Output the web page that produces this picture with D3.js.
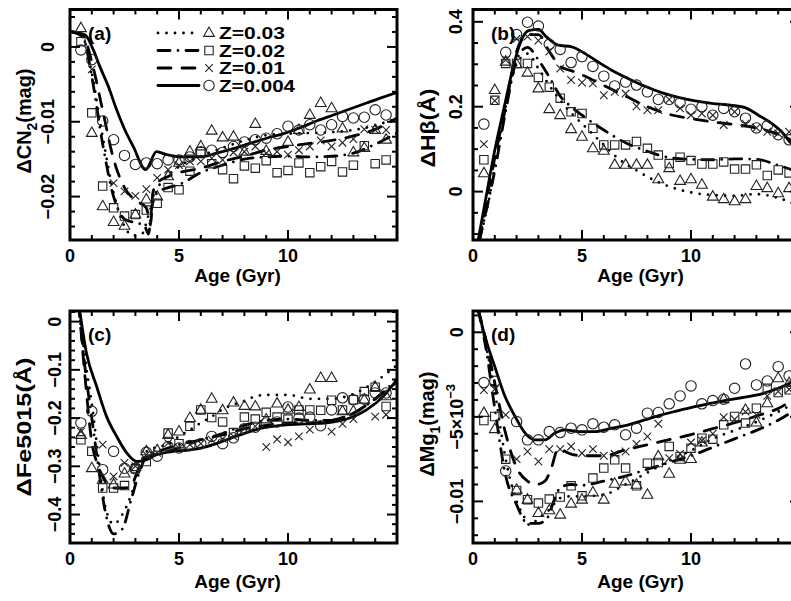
<!DOCTYPE html>
<html>
<head>
<meta charset="utf-8">
<script src="https://cdn.jsdelivr.net/npm/d3@7"></script>
<style>
  html, body { margin: 0; padding: 0; background: #fff; }
  svg { display: block; }
  text { font-family: "Liberation Sans", Arial, sans-serif; font-weight: bold; fill: #000; }
</style>
</head>
<body>
<svg id="chart" width="791" height="601"></svg>
<script>
// Ages (Gyr) of the plotted isochrone points
const markerAges = [0.5, 1, 1.5, 2, 2.5, 3, 3.5, 4, 4.5, 5, 5.5, 6, 6.5, 7, 7.5,
  8, 8.5, 9, 9.5, 10, 10.5, 11, 11.5, 12, 12.5, 13, 13.5, 14, 14.5];

// Panel (a): ΔCN2 (mag)
const cn2Tri = [0.0025, -0.0115, -0.0213, -0.0234, -0.0239, -0.0224, -0.0204, -0.0200, -0.0173, -0.0155,
  -0.0140, -0.0133, -0.0112, -0.0121, -0.0120, -0.0140, -0.0103, -0.0139, null, -0.0127,
  -0.0111, -0.0091, -0.0075, -0.0082, -0.0109, -0.0141, -0.0135, -0.0111, -0.0124];
const cn2Sq = [0.0007, -0.0088, -0.0186, -0.0215, -0.0226, -0.0224, -0.0218, -0.0209, -0.0188, -0.0191,
  -0.0166, -0.0140, -0.0156, -0.0164, -0.0176, -0.0159, -0.0162, -0.0152, -0.0168, -0.0165,
  -0.0155, -0.0168, -0.0160, -0.0153, -0.0167, -0.0158, -0.0132, -0.0156, -0.0151];
const cn2Cross = [null, -0.0030, null, -0.0182, -0.0193, -0.0199, -0.0190, -0.0175, -0.0164, -0.0158,
  -0.0153, -0.0153, -0.0149, -0.0151, -0.0141, -0.0140, -0.0133, -0.0142, -0.0140, -0.0144,
  -0.0138, -0.0133, -0.0125, -0.0133, -0.0128, -0.0123, -0.0110, -0.0111, -0.0111];
const cn2Circ = [-0.0004, -0.0017, -0.0099, -0.0124, -0.0145, -0.0157, -0.0155, -0.0156, -0.0151, -0.0151,
  -0.0147, -0.0140, -0.0138, -0.0141, -0.0133, -0.0127, -0.0124, -0.0122, -0.0116, -0.0106,
  -0.0111, -0.0104, -0.0111, -0.0104, -0.0093, -0.0095, -0.0094, -0.0084, -0.0091];
const cn2Model003 = [[0.1, 0.0020], [0.6, 0.0012], [1.0, -0.0035], [1.5, -0.0120], [2.0, -0.0195], [2.5, -0.0240],
  [2.9, -0.0252], [3.3, -0.0250], [3.6, -0.0225], [4.0, -0.0190], [4.5, -0.0172], [5, -0.0160], [6, -0.0146],
  [7, -0.0135], [8, -0.0125], [9, -0.0118], [10, -0.0116], [11, -0.0115], [12, -0.0114], [13, -0.0111],
  [14, -0.0105], [15, -0.0095]];
const cn2Model002 = [[0.1, 0.0020], [0.6, 0.0013], [1.0, -0.0040], [1.5, -0.0130], [2.0, -0.0200], [2.5, -0.0230],
  [3.0, -0.0235], [3.4, -0.0238], [3.6, -0.0250], [3.75, -0.0215], [4.0, -0.0195], [4.5, -0.0188], [5, -0.0184],
  [6, -0.0168], [7, -0.0158], [8, -0.0150], [9, -0.0147], [10, -0.0146], [11, -0.0147], [12, -0.0146],
  [13, -0.0142], [14, -0.0130], [15, -0.0115]];
const cn2Model001 = [[0.1, 0.0020], [0.6, 0.0015], [1.0, -0.0020], [1.5, -0.0085], [2.0, -0.0150], [2.5, -0.0188],
  [3.0, -0.0205], [3.5, -0.0215], [3.7, -0.0238], [3.8, -0.0195], [4.0, -0.0182], [4.5, -0.0173], [5, -0.0168],
  [6, -0.0162], [7, -0.0153], [8, -0.0146], [9, -0.0138], [10, -0.0133], [11, -0.0129], [12, -0.0125],
  [13, -0.0119], [14, -0.0110], [15, -0.0095]];
const cn2Model0004 = [[0.1, 0.0020], [0.7, 0.0016], [1.07, -0.0004], [1.38, -0.0027], [1.76, -0.0053], [2.14, -0.0084],
  [2.52, -0.0111], [2.9, -0.0133], [3.47, -0.0164], [3.97, -0.0140], [4.44, -0.0144], [5.2, -0.0147],
  [5.96, -0.0147], [6.73, -0.0142], [7.49, -0.0136], [8.25, -0.0129], [9.02, -0.0122], [9.78, -0.0116],
  [10.55, -0.0108], [11.31, -0.0099], [12.08, -0.0091], [12.84, -0.0083], [13.6, -0.0075], [14.37, -0.0067],
  [15, -0.0061]];
const cn2Ticks = [-0.02, -0.01, 0];
const cn2TickLabels = ["\u22120.02", "\u22120.01", "0"];

// Panel (b): ΔHβ (Å)
const hbTri = [0.043, 0.239, 0.306, 0.300, 0.280, 0.243, 0.194, 0.180, 0.147, 0.129, 0.102, 0.096, 0.063, 0.063,
  0.063, 0.063, 0.029, 0.055, 0.025, 0.029, 0.016, -0.012, -0.018, -0.023, -0.018, 0.013, 0.008, -0.004, 0.008];
const hbSq = [0.075, 0.215, 0.302, 0.302, 0.302, 0.269, 0.246, 0.220, 0.188, 0.184, 0.149, 0.110, 0.110, 0.110,
  0.118, 0.102, 0.086, 0.066, 0.081, 0.073, 0.065, 0.065, 0.070, 0.053, 0.053, 0.063, 0.038, 0.051, 0.044];
const hbCross = [0.112, 0.214, 0.310, 0.360, 0.365, 0.356, 0.330, 0.290, 0.263, 0.257, 0.255, 0.227, 0.235, 0.231,
  0.201, 0.192, 0.192, 0.217, 0.196, 0.180, 0.184, 0.180, 0.157, 0.188, 0.160, 0.150, 0.141, 0.137, 0.141];
const hbCirc = [0.159, null, 0.328, 0.370, 0.399, 0.390, 0.347, 0.335, 0.304, 0.318, 0.295, 0.272, 0.249, 0.258,
  0.251, 0.235, 0.217, 0.217, 0.209, 0.194, 0.200, 0.180, 0.196, 0.188, 0.173, 0.150, 0.155, 0.134, 0.122];
const hbModel003 = [[0.3, -0.114], [0.8, 0.0], [1.0, 0.06], [1.5, 0.20], [2.0, 0.30], [2.5, 0.325], [3.0, 0.29],
  [3.5, 0.25], [4.0, 0.215], [4.5, 0.185], [5, 0.16], [5.5, 0.135], [6, 0.11], [6.5, 0.085], [7, 0.065],
  [7.5, 0.05], [8, 0.035], [9, 0.012], [10, -0.002], [11, -0.008], [12, -0.010], [13, -0.006], [14, -0.015],
  [15, -0.035]];
const hbModel002 = [[0.3, -0.114], [0.8, 0.0], [1.0, 0.05], [1.5, 0.19], [2.0, 0.31], [2.5, 0.34], [3.0, 0.31],
  [3.5, 0.27], [4.0, 0.225], [4.5, 0.20], [5, 0.18], [6, 0.145], [7, 0.115], [8, 0.095], [9, 0.08], [10, 0.076],
  [11, 0.075], [12, 0.077], [13, 0.076], [14, 0.062], [15, 0.045]];
const hbModel001 = [[0.3, -0.114], [0.7, 0.0], [1.0, 0.08], [1.5, 0.20], [2.0, 0.33], [2.5, 0.37], [3.0, 0.37],
  [3.5, 0.33], [4.0, 0.295], [4.5, 0.285], [5, 0.275], [6, 0.25], [7, 0.225], [8, 0.20], [9, 0.182], [10, 0.172],
  [11, 0.164], [12, 0.158], [13, 0.150], [14, 0.135], [15, 0.11]];
const hbModel0004 = [[0.24, -0.114], [0.63, -0.004], [1.0, 0.098], [1.47, 0.208], [1.77, 0.278], [2.16, 0.349],
  [2.54, 0.379], [3.0, 0.382], [3.38, 0.364], [3.91, 0.345], [4.53, 0.341], [5.14, 0.325], [5.75, 0.305],
  [6.36, 0.286], [7.13, 0.266], [7.89, 0.248], [8.65, 0.233], [9.42, 0.222], [10.18, 0.214], [10.95, 0.208],
  [11.71, 0.204], [12.48, 0.198], [13.09, 0.180], [13.7, 0.161], [14.16, 0.141], [14.6, 0.113], [15, 0.095]];
const hbTicks = [0, 0.2, 0.4];
const hbTickLabels = ["0", "0.2", "0.4"];

// Panel (c): ΔFe5015 (Å)
const feTri = [-0.235, -0.304, -0.328, -0.338, -0.315, -0.302, -0.269, -0.267, -0.235, -0.228, -0.200, -0.183,
  -0.160, -0.184, -0.168, -0.175, -0.176, -0.203, -0.170, -0.183, -0.177, -0.141, -0.117, -0.117, -0.186,
  -0.186, -0.162, -0.136, -0.155];
const feSq = [-0.245, -0.269, -0.345, -0.345, -0.340, -0.305, -0.290, null, -0.231, -0.253, -0.217, -0.183,
  -0.199, -0.208, -0.230, -0.198, -0.202, -0.188, -0.198, -0.202, -0.183, -0.183, -0.184, -0.163, -0.183,
  -0.162, -0.145, -0.136, -0.176];
const feCross = [-0.228, null, -0.255, -0.321, -0.293, -0.300, -0.276, -0.272, -0.252, -0.262, -0.255, -0.253,
  -0.245, -0.243, -0.238, -0.222, -0.217, -0.260, -0.244, -0.250, -0.238, -0.224, null, -0.228, -0.212,
  -0.202, null, -0.197, -0.193];
const feCirc = [-0.210, -0.186, -0.307, -0.269, -0.304, -0.305, -0.271, -0.279, -0.259, -0.262, -0.257, -0.253,
  -0.238, -0.253, -0.241, -0.222, -0.219, -0.210, -0.208, -0.177, -0.200, -0.198, -0.216, -0.183, -0.158,
  -0.162, -0.161, -0.148, -0.148];
const feModel003 = [[0.4, 0.037], [0.7, -0.08], [1.0, -0.17], [1.3, -0.28], [1.6, -0.38], [2.0, -0.42], [2.4, -0.40],
  [2.8, -0.36], [3.2, -0.30], [3.5, -0.27], [4, -0.26], [4.5, -0.255], [5, -0.238], [5.5, -0.225], [6, -0.21],
  [6.5, -0.197], [7, -0.182], [7.5, -0.172], [8, -0.165], [8.5, -0.155], [9, -0.152], [10, -0.152], [11, -0.16],
  [12, -0.16], [13, -0.15], [14, -0.125], [15, -0.09]];
const feModel002 = [[0.4, 0.037], [0.7, -0.10], [1.0, -0.20], [1.3, -0.30], [1.6, -0.39], [2.0, -0.44], [2.4, -0.43],
  [2.8, -0.37], [3.2, -0.31], [3.5, -0.28], [4, -0.27], [4.5, -0.262], [5, -0.255], [6, -0.245], [7, -0.232],
  [8, -0.215], [9, -0.205], [10, -0.202], [11, -0.205], [12, -0.205], [13, -0.19], [14, -0.16], [15, -0.12]];
const feModel001 = [[0.4, 0.037], [0.7, -0.12], [1.0, -0.25], [1.3, -0.30], [1.6, -0.33], [2.0, -0.345], [2.5, -0.345],
  [2.8, -0.34], [3.2, -0.30], [3.5, -0.282], [4, -0.275], [5, -0.262], [6, -0.245], [7, -0.235], [8, -0.222],
  [9, -0.215], [10, -0.21], [11, -0.21], [12, -0.205], [13, -0.19], [14, -0.16], [15, -0.125]];
const feModel0004 = [[0.4, 0.037], [0.76, -0.066], [1.22, -0.134], [1.68, -0.197], [2.14, -0.238], [2.6, -0.272],
  [3.06, -0.290], [3.52, -0.286], [3.97, -0.276], [4.74, -0.269], [5.5, -0.266], [6.27, -0.259], [7.19, -0.245],
  [8.1, -0.230], [9.02, -0.219], [9.94, -0.214], [10.86, -0.212], [11.77, -0.210], [12.69, -0.202],
  [13.6, -0.183], [14.37, -0.155], [15, -0.12]];
const feTicks = [-0.4, -0.3, -0.2, -0.1, 0];
const feTickLabels = ["\u22120.4", "\u22120.3", "\u22120.2", "\u22120.1", "0"];

// Panel (d): ΔMg1 (mag)
const mgTri = [-0.00478, -0.00573, null, -0.00931, -0.00990, -0.01069, -0.01053, -0.01079, -0.01014, -0.00990,
  -0.00947, -0.00990, -0.00896, -0.00882, -0.00902, -0.00961, -0.00734, -0.00837, -0.00754, -0.00750,
  -0.00652, null, -0.00396, null, -0.00459, -0.00534, -0.00420, -0.00272, -0.00300];
const mgSq = [-0.00522, -0.00498, -0.00750, -0.00935, -0.00990, -0.01010, -0.00986, -0.00974, -0.00908, -0.00967,
  -0.00862, -0.00803, -0.00754, -0.00803, -0.00908, -0.00774, -0.00770, -0.00675, -0.00734, -0.00685,
  -0.00626, -0.00632, -0.00547, -0.00498, -0.00537, -0.00449, -0.00331, -0.00356, -0.00340];
const mgCross = [-0.00341, -0.00337, -0.00488, -0.00750, -0.00705, -0.00764, -0.00691, -0.00691, -0.00675, -0.00715,
  -0.00691, -0.00730, -0.00720, -0.00705, -0.00660, -0.00616, -0.00541, -0.00744, -0.00719, -0.00652,
  -0.00640, -0.00600, -0.00502, -0.00514, -0.00469, -0.00488, -0.00376, -0.00350, -0.00337];
const mgCirc = [-0.00297, -0.00290, -0.00820, -0.00528, -0.00636, -0.00636, -0.00587, -0.00593, -0.00567, -0.00577,
  -0.00541, -0.00561, -0.00547, -0.00606, -0.00567, -0.00478, -0.00474, -0.00423, -0.00376, -0.00317,
  -0.00423, -0.00404, -0.00396, -0.00331, -0.00187, -0.00311, -0.00288, -0.00203, -0.00258];
const mgModel003 = [[0.25, 0.0013], [0.6, -0.0008], [1.0, -0.0035], [1.5, -0.0075], [2.0, -0.0100], [2.3, -0.0108],
  [2.6, -0.0114], [3.0, -0.0110], [3.5, -0.0105], [4.0, -0.0098], [4.5, -0.0097], [5, -0.0097], [6, -0.0096],
  [7, -0.0090], [8, -0.0083], [9, -0.0076], [10, -0.0070], [11, -0.0063], [12, -0.0058], [13, -0.0053],
  [14, -0.0047], [15, -0.0040]];
const mgModel002 = [[0.25, 0.0013], [0.6, -0.0010], [1.0, -0.0045], [1.5, -0.0085], [2.0, -0.0102], [2.5, -0.0113],
  [3.0, -0.0113], [3.4, -0.0110], [3.7, -0.0100], [4.0, -0.0092], [4.5, -0.0090], [5, -0.00905], [6, -0.0088],
  [7, -0.0085], [8, -0.0081], [9, -0.0077], [10, -0.0073], [11, -0.0068], [12, -0.0063], [13, -0.0058],
  [14, -0.0052], [15, -0.0044]];
const mgModel001 = [[0.25, 0.0013], [0.6, -0.0005], [1.0, -0.0030], [1.5, -0.0060], [2.0, -0.0080], [2.5, -0.0088],
  [2.9, -0.0090], [3.3, -0.0088], [3.6, -0.0080], [3.9, -0.0069], [4.5, -0.0072], [5, -0.0073], [6, -0.0073],
  [7, -0.00695], [8, -0.00665], [9, -0.00635], [10, -0.00605], [11, -0.0057], [12, -0.00535], [13, -0.00495],
  [14, -0.0045], [15, -0.0037]];
const mgModel0004 = [[0.24, 0.00132], [0.55, -0.00026], [1.0, -0.00203], [1.47, -0.0038], [1.93, -0.00498],
  [2.39, -0.00596], [2.84, -0.00636], [3.3, -0.00636], [3.76, -0.00596], [4.22, -0.00577], [4.83, -0.00587],
  [5.6, -0.00587], [6.36, -0.00567], [7.13, -0.00547], [7.89, -0.00518], [8.65, -0.00488], [9.42, -0.00463],
  [10.18, -0.00439], [10.95, -0.00419], [11.71, -0.0040], [12.48, -0.00384], [13.24, -0.00364], [14.0, -0.00331],
  [14.62, -0.00297], [15, -0.0028]];
const mgTicks = [-0.01, -0.005, 0];
const mgTickLabels = ["\u22120.01", "\u22125\u00d710^\u22123", "0"];

const ageTicks = [0, 5, 10];
const ageTickLabels = ["0", "5", "10"];
const seriesLabels = ["Z=0.03", "Z=0.02", "Z=0.01", "Z=0.004"];

// Line dash and marker per metallicity, same order as seriesLabels
const seriesStyles = [
  { dash: "0 8.5", marker: "triangle" },
  { dash: "12 8 0 8", marker: "square" },
  { dash: "13 11", marker: "cross" },
  { dash: null, marker: "circle" },
];

const panels = [
  {
    id: "a", tag: "(a)", left: 70, right: 397, top: 9.5, bottom: 240,
    yDomain: [-0.0258, 0.005], minorStep: 0.002, ticks: cn2Ticks, tickLabels: cn2TickLabels, labelOff: 16,
    title: ["\u0394CN", "2", "(mag)"], titleX: 31, titleY: 121, titleLen: 105,
    markers: [cn2Tri, cn2Sq, cn2Cross, cn2Circ],
    models: [cn2Model003, cn2Model002, cn2Model001, cn2Model0004], legend: true,
  },
  {
    id: "b", tag: "(b)", left: 473, right: 800, top: 9.5, bottom: 240,
    yDomain: [-0.114, 0.429], minorStep: 0.05, ticks: hbTicks, tickLabels: hbTickLabels, labelOff: 11,
    title: ["\u0394H\u03b2(\u00c5)"], titleX: 435, titleY: 128, titleLen: 79,
    markers: [hbTri, hbSq, hbCross, hbCirc],
    models: [hbModel003, hbModel002, hbModel001, hbModel0004],
  },
  {
    id: "c", tag: "(c)", left: 70, right: 397, top: 311, bottom: 543,
    yDomain: [-0.459, 0.022], minorStep: 0.02, ticks: feTicks, tickLabels: feTickLabels, labelOff: 9,
    title: ["\u0394Fe5015(\u00c5)"], titleX: 31, titleY: 427, titleLen: 139,
    markers: [feTri, feSq, feCross, feCirc],
    models: [feModel003, feModel002, feModel001, feModel0004],
  },
  {
    id: "d", tag: "(d)", left: 473, right: 800, top: 311, bottom: 543,
    yDomain: [-0.01246, 0.00126], minorStep: 0.001, ticks: mgTicks, tickLabels: mgTickLabels, labelOff: 10,
    title: ["\u0394Mg", "1", "(mag)"], titleX: 434, titleY: 424, titleLen: 105,
    markers: [mgTri, mgSq, mgCross, mgCirc],
    models: [mgModel003, mgModel002, mgModel001, mgModel0004],
  },
];

/**
 * Path for an open marker symbol centred on 0,0
 * @param {string} type - marker type
 * @returns {string} - SVG path
 */
function markerPath(type) {
  switch (type) {
    case "triangle":
      return "M0,-6L5.4,3.4L-5.4,3.4Z";
    case "square":
      return "M-4.2,-4.2H4.2V4.2H-4.2Z";
    case "cross":
      return "M-3.8,-3.8L3.8,3.8M-3.8,3.8L3.8,-3.8";
    default:
      return "M5.2,0A5.2,5.2 0 1,1 -5.2,0A5.2,5.2 0 1,1 5.2,0Z";
  }
}

function styleModel(sel, style) {
  sel
    .attr("fill", "none")
    .attr("stroke", "#000")
    .attr("stroke-width", 2.8)
    .attr("stroke-linecap", "round")
    .attr("stroke-linejoin", "round")
    .attr("stroke-dasharray", style.dash);
}

/**
 * Draw one panel: model curves, isochrone points, frame, ticks and labels
 */
function drawPanel(svg, p) {
  const x = d3.scaleLinear().domain([0, 15]).range([p.left, p.right]);
  const y = d3.scaleLinear().domain(p.yDomain).range([p.bottom, p.top]);

  const clipId = "clip-" + p.id;
  svg.append("clipPath").attr("id", clipId)
    .append("rect")
    .attr("x", p.left).attr("y", p.top)
    .attr("width", p.right - p.left).attr("height", p.bottom - p.top);

  const plot = svg.append("g").attr("clip-path", `url(#${clipId})`);

  const line = d3.line()
    .x((d) => x(d[0]))
    .y((d) => y(d[1]))
    .curve(d3.curveMonotoneX);

  // Model curves
  p.models.forEach((pts, i) => {
    plot.append("path").datum(pts).attr("d", line).call(styleModel, seriesStyles[i]);
  });

  // Isochrone points
  p.markers.forEach((vals, i) => {
    const pts = markerAges.map((a, k) => [a, vals[k]]).filter((d) => d[1] !== null);
    plot.append("g")
      .selectAll("path")
      .data(pts)
      .enter()
      .append("path")
      .attr("transform", (d) => `translate(${x(d[0])},${y(d[1])})`)
      .attr("d", markerPath(seriesStyles[i].marker))
      .attr("fill", "none")
      .attr("stroke", "#222")
      .attr("stroke-width", 1.1);
  });

  // Frame
  svg.append("rect")
    .attr("x", p.left).attr("y", p.top)
    .attr("width", p.right - p.left).attr("height", p.bottom - p.top)
    .attr("fill", "none").attr("stroke", "#000").attr("stroke-width", 3);

  const ticks = svg.append("g").attr("stroke", "#000").attr("stroke-width", 2);

  // Age ticks, top and bottom, pointing inward
  d3.range(1, 15).forEach((a) => {
    const len = a % 5 === 0 ? 10 : 5;
    ticks.append("line").attr("x1", x(a)).attr("x2", x(a)).attr("y1", p.bottom).attr("y2", p.bottom - len);
    ticks.append("line").attr("x1", x(a)).attr("x2", x(a)).attr("y1", p.top).attr("y2", p.top + len);
  });

  // Y ticks, left and right
  const nMinor = Math.floor((p.yDomain[1] - p.yDomain[0]) / p.minorStep) + 2;
  const start = Math.ceil(p.yDomain[0] / p.minorStep) * p.minorStep;
  d3.range(nMinor).map((k) => start + k * p.minorStep)
    .filter((v) => v >= p.yDomain[0] && v <= p.yDomain[1])
    .forEach((v) => {
      const major = p.ticks.some((t) => Math.abs(t - v) < p.minorStep / 10);
      const len = major ? 10 : 5;
      ticks.append("line").attr("x1", p.left).attr("x2", p.left + len).attr("y1", y(v)).attr("y2", y(v));
      ticks.append("line").attr("x1", p.right).attr("x2", p.right - len).attr("y1", y(v)).attr("y2", y(v));
    });

  // Age tick labels
  svg.append("g")
    .selectAll("text")
    .data(ageTicks)
    .enter()
    .append("text")
    .attr("x", (d) => x(d))
    .attr("y", p.bottom + 22)
    .attr("text-anchor", "middle")
    .attr("font-size", 18)
    .text((d, i) => ageTickLabels[i]);

  // Y tick labels, rotated
  p.ticks.forEach((v, i) => {
    const lx = p.left - p.labelOff;
    const parts = p.tickLabels[i].split("^");
    const t = svg.append("text")
      .attr("x", lx).attr("y", y(v))
      .attr("transform", `rotate(-90, ${lx}, ${y(v)})`)
      .attr("text-anchor", "middle")
      .attr("font-size", 18)
      .text(parts[0]);
    if (parts[1]) {
      t.append("tspan").attr("dy", -8).attr("font-size", 13).text(parts[1]);
    }
  });

  // Axis titles
  svg.append("text")
    .attr("x", (p.left + p.right) / 2 + 4)
    .attr("y", p.id === "a" || p.id === "b" ? 282 : 588)
    .attr("text-anchor", "middle")
    .attr("font-size", 19)
    .text("Age (Gyr)");

  const tx = p.titleX;
  const ty = p.titleY;
  const yt = svg.append("text")
    .attr("x", tx).attr("y", ty)
    .attr("text-anchor", "middle")
    .attr("font-size", 20);
  yt.append("tspan").text(p.title[0]);
  if (p.title.length > 1) {
    yt.append("tspan").attr("dy", 6).attr("font-size", 14).text(p.title[1]);
    yt.append("tspan").attr("dy", -6).text(p.title[2]);
  }
  // stretch or squeeze along the reading direction to the measured length
  const natural = yt.node().getComputedTextLength() || p.titleLen;
  const k = p.titleLen / natural;
  yt.attr("transform",
    `rotate(-90, ${tx}, ${ty}) translate(${tx},${ty}) scale(${k},1) translate(${-tx},${-ty})`);

  // Panel tag
  svg.append("text")
    .attr("x", p.left + 18)
    .attr("y", p.top + 30)
    .attr("font-size", 19)
    .text(p.tag);

  if (p.legend) drawLegend(svg);
}

/**
 * Legend in panel (a): line sample, marker, label
 */
function drawLegend(svg) {
  const rows = [33, 50.5, 68, 85.5];
  const textLen = [66, 66, 66, 76];
  const legend = svg.append("g").attr("class", "legend-group");
  seriesLabels.forEach((label, i) => {
    const ry = rows[i];
    legend.append("line")
      .attr("x1", 158).attr("x2", 199).attr("y1", ry).attr("y2", ry)
      .call(styleModel, seriesStyles[i]);
    legend.append("path")
      .attr("transform", `translate(209,${ry})`)
      .attr("d", markerPath(seriesStyles[i].marker))
      .attr("fill", "none").attr("stroke", "#222").attr("stroke-width", 1.1);
    legend.append("text")
      .attr("x", 219).attr("y", ry + 6.2)
      .attr("font-size", 17)
      .attr("textLength", textLen[i])
      .attr("lengthAdjust", "spacingAndGlyphs")
      .text(label);
  });
}

const svg = d3.select("#chart");
panels.forEach((p) => drawPanel(svg, p));
</script>
</body>
</html>
